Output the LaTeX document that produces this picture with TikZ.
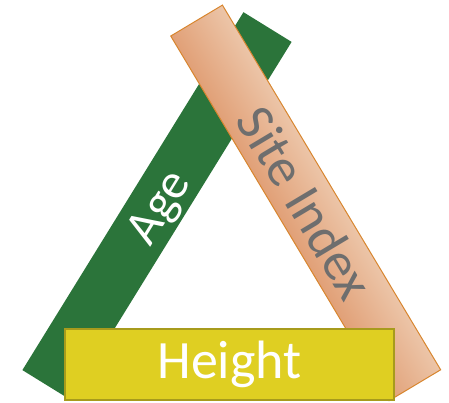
\documentclass[tikz,border=0pt]{standalone}
\usepackage{fontspec}
\setmainfont{Carlito}
\definecolor{agegreen}{HTML}{2B743A}
\definecolor{sitedark}{HTML}{E1A077}
\definecolor{sitelight}{HTML}{ECC5A8}
\definecolor{siteedge}{HTML}{D8862F}
\definecolor{sitetext}{HTML}{6E6E6E}
\definecolor{heightfill}{HTML}{DFCF22}
\definecolor{heightedge}{HTML}{A79B1C}

\begin{document}
\begin{tikzpicture}[x=1pt, y=-1pt,
    bar/.style={inner sep=0pt, outer sep=0pt, font=\fontsize{50}{60}\selectfont},
    agebar/.style={bar, fill=agegreen, text=white, text height=43pt, text depth=10pt},
    sitebar/.style={bar, top color=sitelight, bottom color=sitedark, draw=siteedge, line width=1pt, text=sitetext, font=\fontsize{54}{64}\selectfont},
    heightbox/.style={bar, fill=heightfill, draw=heightedge, line width=2.5pt, text=white, font=\fontsize{54}{64}\selectfont}]
    \useasboundingbox (0,0) rectangle (449,402);
    % the three sides of the triangle
    \node[agebar, rotate=58.3, minimum width=420.7, minimum height=56.6] (age) at (157,206) {Age};
    \begin{scope}[transform canvas={shift={(305.7,202.9)}, rotate=-59.1}]
        \node[sitebar, minimum width=425, minimum height=60.2] (site) at (0,0) {Site Index};
    \end{scope}
    \node[heightbox, minimum width=329, minimum height=71] (height) at (229.5,364.5) {Height};
\end{tikzpicture}
\end{document}
